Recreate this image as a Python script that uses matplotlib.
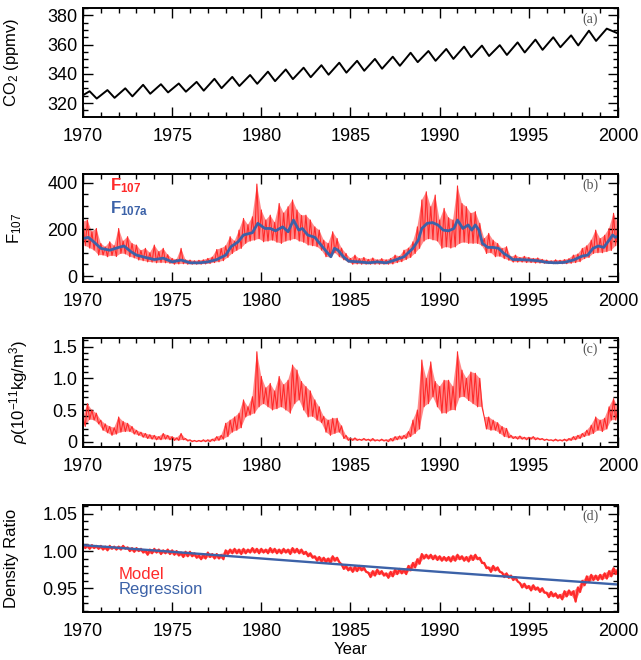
import numpy as np
import matplotlib
matplotlib.use("Agg")
import matplotlib.pyplot as plt
from matplotlib.ticker import MultipleLocator

plt.rcParams["font.family"] = ["Liberation Sans", "DejaVu Sans"]
plt.rcParams["mathtext.fontset"] = "custom"
plt.rcParams["mathtext.rm"] = "Liberation Sans"
plt.rcParams["mathtext.it"] = "Liberation Sans:italic"
plt.rcParams["mathtext.bf"] = "Liberation Sans:bold"

RED = "#ff2a2a"
BLUE = "#3c62a8"

# ---- (a) CO2: seasonal maximum (May) and minimum (Oct) of each year
co2_years = list(range(1970, 2000))
co2_peak = [328.1, 328.9, 330.1, 332.5, 332.9, 333.4, 334.5, 336.6, 337.9, 339.2,
            341.5, 343.0, 344.2, 345.9, 347.6, 348.9, 350.2, 351.7, 354.4, 355.6,
            357.0, 358.6, 359.3, 359.6, 361.5, 363.4, 365.0, 366.3, 369.5, 370.9]
co2_trough = [323.1, 323.6, 324.6, 326.4, 327.3, 327.8, 328.5, 330.2, 331.7, 333.2,
              335.0, 336.4, 337.7, 339.4, 340.8, 342.1, 343.5, 345.5, 348.0, 348.9,
              350.2, 351.4, 352.2, 352.9, 354.6, 356.4, 358.2, 359.4, 362.5]
co2_first = 325.4
co2_last = 367.6

# ---- (b) F10.7, sampled 8 times a year (1970.0 .. 2000.0), high/low alternating
f107 = [
    233, 130, 240, 120, 190, 111, 204, 90,
    140, 90, 125, 83, 147, 88, 130, 84,
    204, 97, 150, 95, 169, 83, 140, 78,
    133, 69, 110, 66, 119, 61, 100, 60,
    133, 57, 105, 58, 119, 57, 92, 55,
    76, 51, 72, 52, 119, 53, 70, 51,
    69, 51, 66, 51, 68, 51, 70, 52,
    76, 54, 82, 58, 114, 61, 119, 66,
    130, 80, 169, 97, 150, 110, 197, 119,
    247, 140, 220, 150, 254, 154, 394, 160,
    283, 147, 240, 150, 261, 154, 230, 145,
    311, 140, 270, 150, 297, 154, 326, 160,
    283, 150, 260, 145, 261, 133, 240, 130,
    211, 126, 197, 111, 154, 83, 140, 80,
    190, 100, 161, 83, 120, 70, 97, 60,
    76, 51, 90, 52, 75, 51, 80, 51,
    72, 51, 78, 51, 70, 51, 75, 51,
    70, 51, 76, 52, 90, 58, 85, 62,
    111, 71, 120, 80, 147, 97, 211, 119,
    326, 150, 361, 160, 297, 155, 347, 150,
    240, 119, 290, 125, 250, 120, 240, 125,
    386, 140, 311, 145, 297, 140, 269, 140,
    276, 140, 226, 130, 161, 97, 183, 100,
    154, 83, 140, 85, 119, 75, 126, 68,
    83, 60, 90, 60, 80, 60, 85, 58,
    80, 58, 76, 56, 78, 56, 72, 55,
    69, 54, 66, 53, 70, 53, 68, 53,
    71, 53, 75, 55, 90, 58, 95, 62,
    119, 75, 130, 80, 154, 97, 197, 100,
    161, 100, 175, 105, 204, 110, 269, 130,
    226,
]
f107a_year = [1970.0, 1970.3, 1970.6, 1971.0, 1971.5, 1972.0, 1972.3, 1972.7, 1973.0, 1973.5,
              1974.0, 1974.5, 1975.0, 1975.5, 1976.0, 1976.5, 1977.0, 1977.5, 1978.0, 1978.3,
              1978.7, 1979.0, 1979.5, 1979.8, 1980.2, 1980.5, 1980.8, 1981.2, 1981.5, 1981.8,
              1982.1, 1982.3, 1982.6, 1983.0, 1983.2, 1983.5, 1983.9, 1984.1, 1984.3, 1984.6,
              1984.9, 1985.5, 1986.0, 1986.5, 1987.0, 1987.5, 1988.0, 1988.5, 1988.8, 1989.0,
              1989.3, 1989.6, 1989.9, 1990.2, 1990.5, 1990.8, 1991.0, 1991.3, 1991.6, 1991.8,
              1992.0, 1992.2, 1992.4, 1992.7, 1993.0, 1993.3, 1993.6, 1993.9, 1994.1, 1994.5,
              1995.0, 1995.5, 1996.0, 1996.5, 1997.0, 1997.5, 1998.0, 1998.3, 1998.6, 1998.9,
              1999.2, 1999.5, 1999.7, 1999.85, 2000.0]
f107a_val = [161, 166, 147, 119, 111, 123, 129, 104, 90, 80,
             71, 77, 61, 69, 57, 57, 61, 71, 90, 126,
             147, 176, 186, 226, 204, 204, 194, 211, 190, 240,
             197, 204, 176, 166, 147, 119, 83, 119, 111, 83,
             64, 61, 57, 61, 57, 69, 83, 119, 154, 204,
             226, 229, 219, 197, 194, 204, 240, 204, 219, 197,
             219, 197, 140, 123, 123, 119, 97, 83, 71, 71,
             69, 66, 59, 57, 59, 69, 86, 90, 119, 129,
             123, 154, 176, 166, 171]

# ---- (c) density (1e-11 kg/m^3), 8 samples a year, high/low alternating
rho = [
    0.39, 0.24, 0.60, 0.35, 0.50, 0.34, 0.45, 0.28,
    0.34, 0.18, 0.28, 0.14, 0.24, 0.10, 0.22, 0.12,
    0.39, 0.15, 0.32, 0.16, 0.29, 0.16, 0.24, 0.12,
    0.18, 0.10, 0.15, 0.07, 0.13, 0.05, 0.11, 0.04,
    0.10, 0.03, 0.08, 0.03, 0.13, 0.04, 0.10, 0.03,
    0.08, 0.02, 0.06, 0.02, 0.13, 0.03, 0.05, 0.01,
    0.03, 0.00, 0.02, 0.00, 0.02, 0.00, 0.03, 0.00,
    0.03, 0.00, 0.04, 0.01, 0.08, 0.02, 0.10, 0.04,
    0.29, 0.08, 0.34, 0.15, 0.39, 0.18, 0.45, 0.22,
    0.66, 0.39, 0.55, 0.42, 0.71, 0.45, 1.42, 0.55,
    1.03, 0.60, 0.85, 0.55, 0.92, 0.50, 0.80, 0.52,
    1.03, 0.55, 0.90, 0.50, 0.97, 0.45, 1.21, 0.60,
    1.13, 0.66, 0.95, 0.50, 0.87, 0.39, 0.80, 0.40,
    0.66, 0.34, 0.55, 0.30, 0.40, 0.15, 0.34, 0.10,
    0.37, 0.13, 0.37, 0.15, 0.25, 0.05, 0.10, 0.02,
    0.05, 0.02, 0.06, 0.02, 0.04, 0.02, 0.05, 0.02,
    0.04, 0.01, 0.05, 0.01, 0.03, 0.01, 0.04, 0.01,
    0.03, 0.00, 0.05, 0.01, 0.08, 0.03, 0.09, 0.04,
    0.10, 0.05, 0.16, 0.08, 0.34, 0.13, 0.50, 0.20,
    1.29, 0.55, 1.00, 0.60, 1.26, 0.71, 0.95, 0.55,
    0.87, 0.45, 0.97, 0.45, 0.97, 0.50, 0.87, 0.50,
    1.42, 0.70, 1.13, 0.71, 1.00, 0.65, 1.10, 0.60,
    1.08, 0.55, 1.00, 0.55, 0.39, 0.20, 0.39, 0.18,
    0.34, 0.18, 0.30, 0.13, 0.24, 0.08, 0.21, 0.06,
    0.10, 0.05, 0.08, 0.04, 0.09, 0.04, 0.07, 0.03,
    0.07, 0.04, 0.08, 0.03, 0.06, 0.03, 0.05, 0.02,
    0.04, 0.02, 0.03, 0.01, 0.04, 0.01, 0.03, 0.01,
    0.04, 0.01, 0.05, 0.02, 0.08, 0.03, 0.10, 0.05,
    0.13, 0.08, 0.18, 0.10, 0.26, 0.13, 0.39, 0.18,
    0.34, 0.16, 0.37, 0.20, 0.55, 0.34, 0.68, 0.34,
    0.55,
]

# ---- (d) density ratio, model (8 samples a year) and regression
ratio_model = [
    1.009, 1.004, 1.008, 1.003, 1.008, 1.004, 1.007, 1.003,
    1.007, 1.002, 1.006, 1.001, 1.007, 1.003, 1.006, 1.002,
    1.006, 1.002, 1.007, 1.003, 1.005, 1.000, 1.004, 0.999,
    1.004, 1.000, 1.003, 0.998, 1.001, 0.995, 1.002, 0.997,
    1.003, 0.998, 1.002, 0.996, 1.001, 0.997, 1.002, 0.996,
    1.001, 0.995, 1.000, 0.994, 0.998, 0.992, 0.999, 0.993,
    0.999, 0.993, 0.997, 0.991, 0.994, 0.989, 0.995, 0.990,
    0.998, 0.992, 0.996, 0.990, 0.996, 0.990, 0.995, 0.989,
    1.001, 0.996, 1.002, 0.997, 1.003, 0.997, 1.002, 0.996,
    1.003, 0.997, 1.002, 0.998, 1.004, 0.998, 1.003, 0.997,
    1.003, 0.998, 1.002, 0.997, 1.004, 0.998, 1.003, 0.997,
    1.002, 0.997, 1.003, 0.998, 1.002, 0.996, 1.004, 0.998,
    1.003, 0.997, 1.002, 0.996, 0.999, 0.993, 0.997, 0.991,
    0.993, 0.987, 0.992, 0.986, 0.991, 0.985, 0.990, 0.984,
    0.993, 0.987, 0.991, 0.985, 0.982, 0.976, 0.980, 0.974,
    0.978, 0.972, 0.979, 0.973, 0.980, 0.974, 0.978, 0.972,
    0.971, 0.965, 0.973, 0.967, 0.975, 0.969, 0.973, 0.967,
    0.970, 0.964, 0.972, 0.966, 0.975, 0.969, 0.976, 0.970,
    0.975, 0.969, 0.980, 0.974, 0.984, 0.978, 0.989, 0.983,
    0.996, 0.990, 0.995, 0.990, 0.995, 0.989, 0.994, 0.988,
    0.993, 0.987, 0.992, 0.987, 0.992, 0.986, 0.993, 0.987,
    0.995, 0.989, 0.993, 0.987, 0.992, 0.986, 0.994, 0.988,
    0.995, 0.989, 0.991, 0.984, 0.984, 0.977, 0.978, 0.972,
    0.980, 0.974, 0.978, 0.972, 0.971, 0.965, 0.970, 0.964,
    0.967, 0.961, 0.965, 0.959, 0.957, 0.951, 0.956, 0.950,
    0.953, 0.947, 0.954, 0.948, 0.951, 0.945, 0.950, 0.944,
    0.944, 0.938, 0.945, 0.939, 0.943, 0.937, 0.941, 0.935,
    0.946, 0.939, 0.947, 0.941, 0.946, 0.932, 0.951, 0.945,
    0.960, 0.954, 0.966, 0.958, 0.968, 0.961, 0.967, 0.961,
    0.968, 0.962, 0.970, 0.963, 0.973, 0.966, 0.977, 0.969,
    0.975,
]
regr_year = [1970, 1980, 1990, 2000]
regr_val = [1.008, 0.990, 0.972, 0.955]

t8 = 1970 + np.arange(len(f107)) / 8.0

co2_x, co2_y = [1970.0], [co2_first]
for i, yr in enumerate(co2_years):
    co2_x.append(yr + 0.37)
    co2_y.append(co2_peak[i])
    if i < len(co2_trough):
        co2_x.append(yr + 0.77)
        co2_y.append(co2_trough[i])
co2_x.append(2000.0)
co2_y.append(co2_last)


def noisy(ax, t, vals, lw=0.8):
    # band between the high (even) and low (odd) samples, plus the trace itself
    vals = np.asarray(vals, dtype=float)
    px = np.concatenate([t[0::2], t[1::2][::-1]])
    py = np.concatenate([vals[0::2], vals[1::2][::-1]])
    ax.fill(px, py, color=RED, alpha=0.55, lw=0)
    ax.plot(t, vals, color=RED, lw=lw)


fig = plt.figure(figsize=(6.41, 6.60), dpi=100)
left, width = 83 / 641, 535 / 641
ax_a = fig.add_axes([left, 1 - 117 / 660, width, 109 / 660])
ax_b = fig.add_axes([left, 1 - 282 / 660, width, 108 / 660])
ax_c = fig.add_axes([left, 1 - 447 / 660, width, 109 / 660])
ax_d = fig.add_axes([left, 1 - 612 / 660, width, 107 / 660])


def style(ax, ylim, major, minor, label, tag, labx):
    ax.set_xlim(1970, 2000)
    ax.set_ylim(*ylim)
    ax.xaxis.set_major_locator(MultipleLocator(5))
    ax.xaxis.set_minor_locator(MultipleLocator(1))
    ax.yaxis.set_major_locator(MultipleLocator(major))
    ax.yaxis.set_minor_locator(MultipleLocator(minor))
    ax.tick_params(which="both", direction="in", top=True, right=True, width=1.0)
    ax.tick_params(which="major", length=7, labelsize=13)
    ax.tick_params(which="minor", length=3.5)
    ax.tick_params(axis="x", pad=8)
    ax.tick_params(axis="y", pad=4)
    for s in ax.spines.values():
        s.set_linewidth(1.4)
    ax.set_ylabel(label, fontsize=12)
    ax.yaxis.set_label_coords(labx, 0.5)
    ax.text(0.948, 0.96, tag, transform=ax.transAxes, ha="center", va="top",
            fontsize=10, family="Liberation Serif", color="#555555")


ax_a.plot(co2_x, co2_y, color="black", lw=1.4)
style(ax_a, (310.5, 385), 20, 5, "CO$_2$ (ppmv)", "(a)", -0.115)

noisy(ax_b, t8, f107)
ax_b.plot(f107a_year, f107a_val, color=BLUE, lw=2.0)
style(ax_b, (-25, 437), 200, 50, "F$_{107}$", "(b)", -0.11)
ax_b.text(0.05, 0.89, r"F$_{\mathbf{107}}$", transform=ax_b.transAxes, color=RED,
          fontsize=12, fontweight="bold", va="center")
ax_b.text(0.05, 0.68, r"F$_{\mathbf{107a}}$", transform=ax_b.transAxes, color=BLUE,
          fontsize=12, fontweight="bold", va="center")

noisy(ax_c, t8, rho)
style(ax_c, (-0.084, 1.637), 0.5, 0.1, r"$\rho$(10$^{-11}$kg/m$^3$)", "(c)", -0.10)
ax_c.yaxis.set_major_formatter(plt.FuncFormatter(lambda v, p: "0" if abs(v) < 1e-9 else f"{v:.1f}"))

noisy(ax_d, t8, ratio_model, lw=1.6)
ax_d.plot(regr_year, regr_val, color=BLUE, lw=1.7)
style(ax_d, (0.918, 1.062), 0.05, 0.01, "Density Ratio", "(d)", -0.12)
ax_d.yaxis.set_major_formatter(plt.FuncFormatter(lambda v, p: f"{v:.2f}"))
ax_d.text(0.066, 0.35, "Model", transform=ax_d.transAxes, color=RED,
          fontsize=12, va="center")
ax_d.text(0.066, 0.21, "Regression", transform=ax_d.transAxes, color=BLUE,
          fontsize=12, va="center")
ax_d.set_xlabel("Year", fontsize=12, labelpad=1)

fig.savefig("out.png", dpi=100)
